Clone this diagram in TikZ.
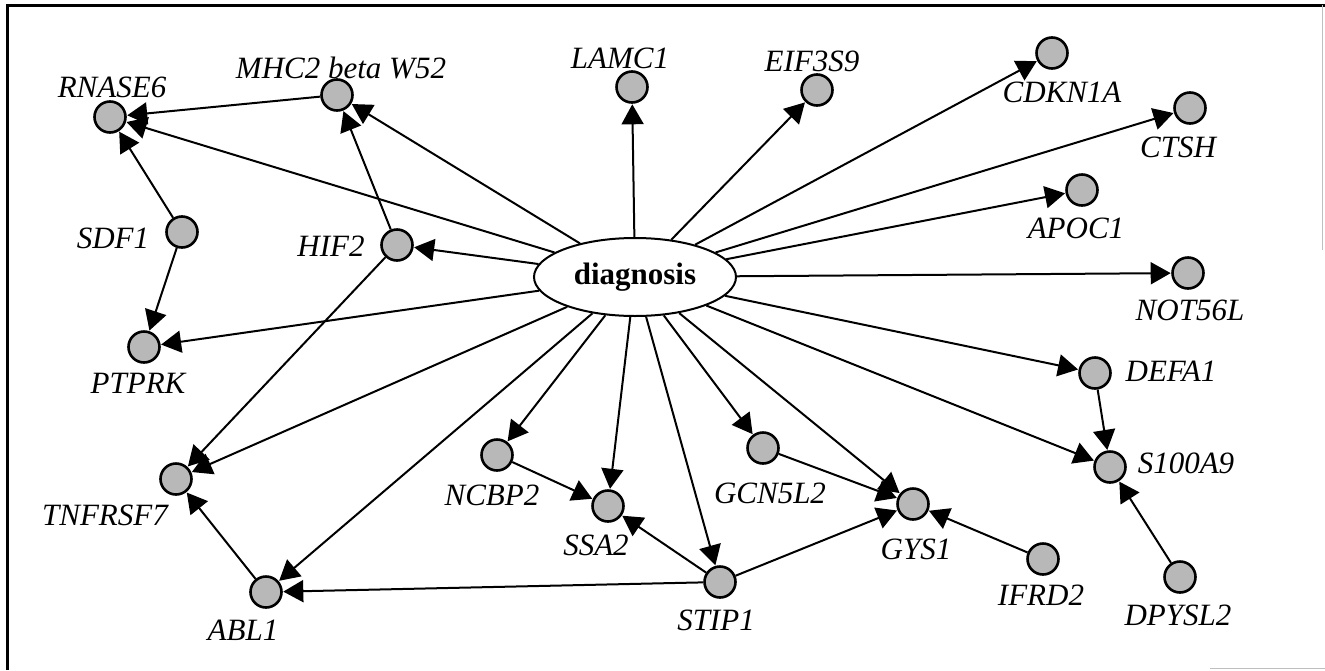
\documentclass[tikz,border=0pt]{standalone}
\usepackage{fontspec}
\setmainfont{Liberation Serif}
\usetikzlibrary{arrows.meta,shapes.geometric}
\begin{document}
\begin{tikzpicture}[x=1pt,y=-1pt,
  gene/.style={circle,draw=black,line width=2.6pt,fill=black!28,minimum size=31pt,inner sep=0pt},
  hub/.style={ellipse,draw=black,line width=2pt,minimum width=202pt,minimum height=78pt,inner sep=0pt,
              font=\fontsize{31}{33}\selectfont\bfseries},
  tag/.style={anchor=base,inner sep=0pt,font=\fontsize{31}{33}\selectfont\itshape},
  edge/.style={line width=2pt,-{Triangle[length=20pt,width=22pt]},shorten >=0.5pt}]
\useasboundingbox (0,0) rectangle (1325,670);
% frame
\draw[line width=3pt] (7,670) -- (7,5) -- (1325,5);
\draw[line width=1pt,black!25] (1322,5) -- (1322,250);
\draw[line width=1pt,black!25] (1210,668) -- (1325,668);

% hub
\node[hub] (dx) at (635,277) {diagnosis};

% gene nodes
\node[gene] (rnase6) at (110,117) {};
\node[gene] (mhc2)   at (337,95)  {};
\node[gene] (sdf1)   at (182,232) {};
\node[gene] (hif2)   at (397,245) {};
\node[gene] (ptprk)  at (144,347) {};
\node[gene] (tnfrsf7) at (176,479) {};
\node[gene] (abl1)   at (266,592) {};
\node[gene] (lamc1)  at (632,87)  {};
\node[gene] (eif3s9) at (817,90)  {};
\node[gene] (cdkn1a) at (1052,53) {};
\node[gene] (ctsh)   at (1190,108) {};
\node[gene] (apoc1)  at (1082,190) {};
\node[gene] (not56l) at (1188,273) {};
\node[gene] (defa1)  at (1095,373) {};
\node[gene] (s100a9) at (1110,467) {};
\node[gene] (gys1)   at (913,504) {};
\node[gene] (ifrd2)  at (1043,559) {};
\node[gene] (dpysl2) at (1180,577) {};
\node[gene] (ncbp2)  at (497,455) {};
\node[gene] (ssa2)   at (608,506) {};
\node[gene] (gcn5l2) at (763,448) {};
\node[gene] (stip1)  at (720,582) {};

% labels
\node[tag] (l-rnase6) at (112,97)  {RNASE6};
\node[tag] (l-mhc2)   at (341,78)  {MHC2 beta W52};
\node[tag] (l-sdf1)   at (113,248) {SDF1};
\node[tag] (l-hif2)   at (331,256) {HIF2};
\node[tag] (l-ptprk)  at (138,393) {PTPRK};
\node[tag] (l-tnfrsf7) at (105,525) {TNFRSF7};
\node[tag] (l-abl1)   at (243,640) {ABL1};
\node[tag] (l-lamc1)  at (620,68)  {LAMC1};
\node[tag] (l-eif3s9) at (812,71)  {EIF3S9};
\node[tag] (l-cdkn1a) at (1062,102) {CDKN1A};
\node[tag] (l-ctsh)   at (1178,157) {CTSH};
\node[tag] (l-apoc1)  at (1076,238) {APOC1};
\node[tag] (l-not56l) at (1190,320) {NOT56L};
\node[tag] (l-defa1)  at (1171,381) {DEFA1};
\node[tag] (l-s100a9) at (1186,473) {S100A9};
\node[tag] (l-gys1)   at (916,559) {GYS1};
\node[tag] (l-ifrd2)  at (1041,605) {IFRD2};
\node[tag] (l-dpysl2) at (1178,625) {DPYSL2};
\node[tag] (l-ncbp2)  at (492,505) {NCBP2};
\node[tag] (l-ssa2)   at (596,555) {SSA2};
\node[tag] (l-gcn5l2) at (770,503) {GCN5L2};
\node[tag] (l-stip1)  at (716,630) {STIP1};

% connectors
\draw[edge] (mhc2) -- (rnase6);
\draw[edge] (dx) -- (rnase6);
\draw[edge] (sdf1) -- (rnase6);
\draw[edge] (hif2) -- (mhc2);
\draw[edge] (dx) -- (mhc2);
\draw[edge] (dx) -- (lamc1);
\draw[edge] (dx) -- (eif3s9);
\draw[edge] (dx) -- (cdkn1a);
\draw[edge] (dx) -- (ctsh);
\draw[edge] (dx) -- (apoc1);
\draw[edge] (dx) -- (not56l);
\draw[edge] (dx) -- (defa1);
\draw[edge] (dx) -- (s100a9);
\draw[edge] (defa1) -- (s100a9);
\draw[edge] (dpysl2) -- (s100a9);
\draw[edge] (dx) -- (gys1);
\draw[edge] (gcn5l2) -- (gys1);
\draw[edge] (stip1) -- (gys1);
\draw[edge] (ifrd2) -- (gys1);
\draw[edge] (dx) -- (gcn5l2);
\draw[edge] (dx) -- (stip1);
\draw[edge] (stip1) -- (ssa2);
\draw[edge] (stip1) -- (abl1);
\draw[edge] (dx) -- (ssa2);
\draw[edge] (ncbp2) -- (ssa2);
\draw[edge] (dx) -- (ncbp2);
\draw[edge] (dx) -- (abl1);
\draw[edge] (abl1) -- (tnfrsf7);
\draw[edge] (dx) -- (tnfrsf7);
\draw[edge] (hif2) -- (tnfrsf7);
\draw[edge] (dx) -- (hif2);
\draw[edge] (dx) -- (ptprk);
\draw[edge] (sdf1) -- (ptprk);
\end{tikzpicture}
\end{document}
